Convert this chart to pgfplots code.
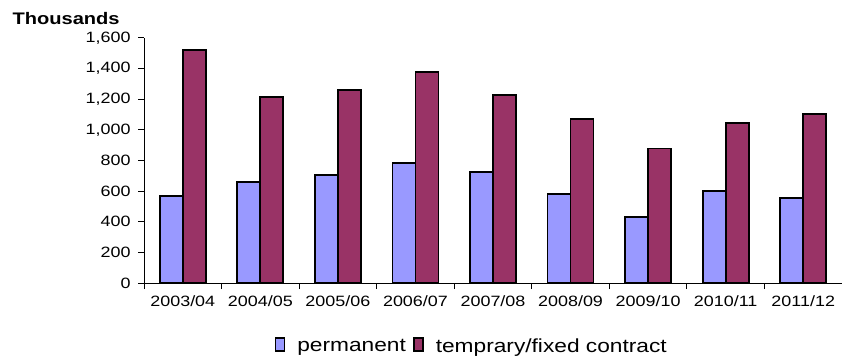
\documentclass[border=0pt]{standalone}
\usepackage{fontspec}
\setmainfont{Liberation Sans}[FakeStretch=1.2]
\usepackage{pgfplots}
\pgfplotsset{compat=1.18}

\definecolor{permcol}{RGB}{153,153,255}
\definecolor{tempcol}{RGB}{153,51,102}

\pgfplotstableread{
idx permanent temporary
0 570 1522
1 660 1217
2 705 1263
3 786 1378
4 727 1230
5 581 1071
6 433 879
7 603 1047
8 557 1104
}\contracts

\begin{document}
\begin{tikzpicture}[x=1bp,y=1bp]
\useasboundingbox (0,0) rectangle (842,358);
\begin{axis}[
  at={(144bp,75bp)}, anchor=south west,
  scale only axis, width=698bp, height=245bp,
  xmin=-0.5, xmax=8.5, ymin=0, ymax=1600,
  axis x line*=bottom, axis y line*=left,
  axis line style={line width=1bp},
  ybar=0pt, bar width=23bp,
  xtick={0,...,8},
  xticklabels={2003/04,2004/05,2005/06,2006/07,2007/08,2008/09,2009/10,2010/11,2011/12},
  major x tick style={draw=none},
  minor xtick={-0.5,0.5,...,8.5},
  ytick={0,200,...,1600},
  scaled y ticks=false,
  tick align=outside,
  major tick length=6bp, minor tick length=6bp,
  tick style={black, line width=1bp},
  /pgf/number format/assume math mode=true,
  /pgf/number format/1000 sep={,},
  tick label style={font=\fontsize{15}{18}\selectfont},
  xticklabel style={yshift=-3bp},
  yticklabel style={xshift=-4bp},
  legend style={draw=none, fill=none, at={(0.468,-0.305)}, anchor=south,
    font=\fontsize{19}{22}\selectfont, legend columns=-1,
    nodes={inner xsep=0bp},
    /tikz/every even column/.append style={column sep=7bp},
    /tikz/every odd column/.append style={column sep=12bp}},
  legend image code/.code={\draw[#1] (0bp,-5bp) rectangle (9bp,8bp);},
]
\addplot[fill=permcol, draw=black, line width=1.8bp] table[x=idx, y=permanent] {\contracts};
\addplot[fill=tempcol, draw=black, line width=1.8bp] table[x=idx, y=temporary] {\contracts};
\legend{permanent, temprary/fixed contract}
\end{axis}
\node[anchor=base west, font=\bfseries\fontsize{16.8}{20}\selectfont] at (9,334) {Thousands};
\end{tikzpicture}
\end{document}
